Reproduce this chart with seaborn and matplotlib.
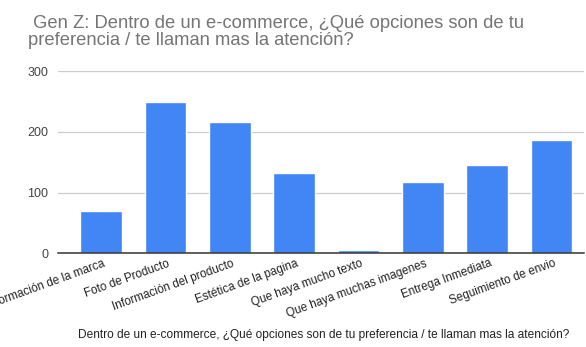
import matplotlib
matplotlib.use("Agg")
import matplotlib.pyplot as plt
import matplotlib.transforms as mtransforms
import seaborn as sns
import pandas as pd

categories = [
    "Información de la marca",
    "Foto de Producto",
    "Información del producto",
    "Estética de la pagina",
    "Que haya mucho texto",
    "Que haya muchas imagenes",
    "Entrega Inmediata",
    "Seguimiento de envio",
]
values = [69, 250, 216, 133, 6, 117, 145, 186]
y_ticks = [0, 100, 200, 300]

title = " Gen Z: Dentro de un e-commerce, ¿Qué opciones son de tu\npreferencia / te llaman mas la atención?"
x_title = "Dentro de un e-commerce, ¿Qué opciones son de tu preferencia / te llaman mas la atención?"

sns.set_theme(style="white")
plt.rcParams["font.family"] = ["Liberation Sans", "DejaVu Sans"]

df = pd.DataFrame({"opcion": categories, "total": values})

fig = plt.figure(figsize=(5.86, 3.47), dpi=100)
ax = fig.add_axes([0.099, 0.270, 0.898, 0.5245])

sns.barplot(data=df, x="opcion", y="total", color="#4285F4", saturation=1,
            width=0.65, ax=ax, zorder=3)

ax.set_xlim(-0.67, 7.51)
ax.set_ylim(0, 300)
ax.set_yticks(y_ticks)
ax.set_yticklabels([str(t) for t in y_ticks], fontsize=9, color="#444444")
ax.yaxis.grid(True, color="#cccccc", linewidth=0.9, zorder=0)
ax.tick_params(axis="y", length=0, pad=7)
ax.tick_params(axis="x", length=0, pad=3)

for s in ["top", "right", "left"]:
    ax.spines[s].set_visible(False)
ax.spines["bottom"].set_color("#333333")
ax.spines["bottom"].set_linewidth(1.1)
ax.spines["bottom"].set_zorder(4)

ax.set_xticks(range(len(categories)))
ax.set_xticklabels(categories, rotation=20, ha="right", rotation_mode="anchor",
                   fontsize=8.4, color="#222222")
shift = mtransforms.ScaledTranslation(2 / 100, 0, fig.dpi_scale_trans)
for lbl in ax.get_xticklabels():
    lbl.set_transform(lbl.get_transform() + shift)
ax.set_xlabel("")
ax.set_ylabel("")

fig.text(0.048, 0.957, title, ha="left", va="top", fontsize=13.2,
         color="#757575", linespacing=1.0)
fig.text(0.133, 0.018, x_title, ha="left", va="bottom", fontsize=8.6,
         color="#222222")

fig.savefig("out.png", dpi=100)
